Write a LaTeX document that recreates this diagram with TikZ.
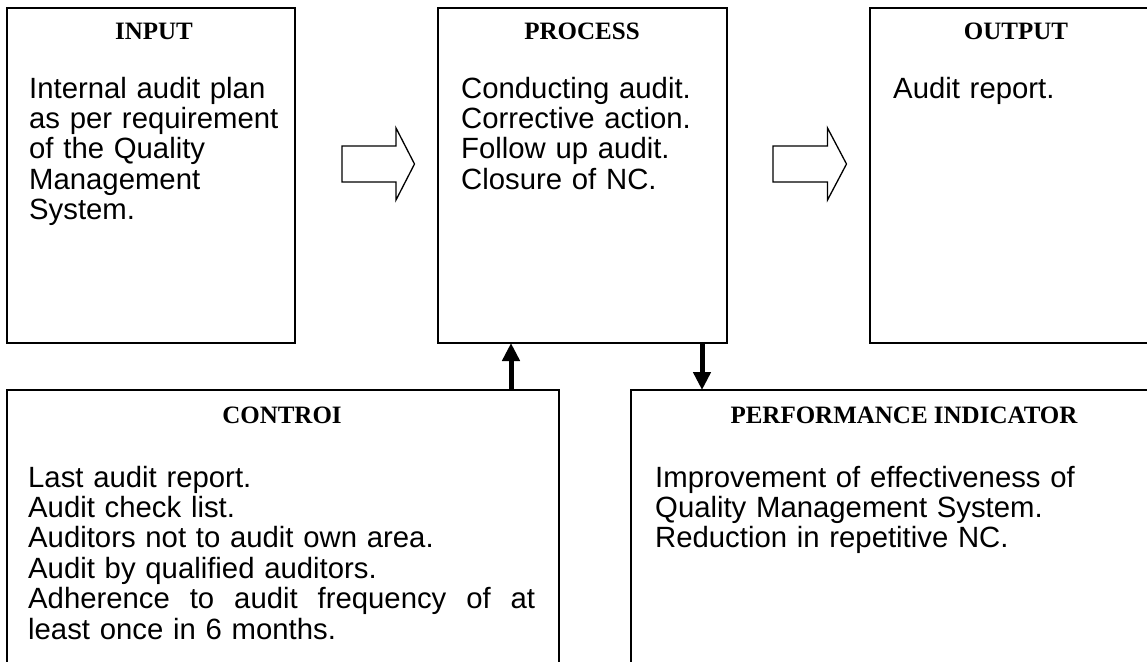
\documentclass[tikz,border=0pt]{standalone}
\usepackage{fontspec}
\setmainfont{Liberation Sans}
\newfontfamily\titlefont{Liberation Serif}
\usetikzlibrary{arrows.meta}
\tikzset{
  box/.style={draw, line width=2pt, rectangle, anchor=north west, inner sep=0pt},
  boxtitle/.style={anchor=base, inner sep=0pt, font=\titlefont\bfseries\fontsize{25}{27}\selectfont},
  boxbody/.style={anchor=base west, inner sep=0pt, align=left, font=\fontsize{29.3}{30.4}\selectfont},
  blockarrow/.style={draw, line width=1.3pt, line join=miter, fill=white},
  thickarrow/.style={line width=5pt, -{Triangle[length=18pt, width=17pt]}, shorten >=-1pt}
}
\begin{document}
\begin{tikzpicture}[x=1pt, y=-1pt]
\useasboundingbox (0,0) rectangle (1147,661);
\clip (0,0) rectangle (1147,661);
% boxes
\node[box, minimum width=288pt, minimum height=335pt] (inp) at (6,7) {};
\node[box, minimum width=289pt, minimum height=335pt] (proc) at (437,7) {};
\node[box, minimum width=290pt, minimum height=335pt] (out) at (869,7) {};
\node[box, minimum width=552pt, minimum height=320pt] (ctrl) at (6,389) {};
\node[box, minimum width=546pt, minimum height=320pt] (perf) at (630,389) {};
% titles
\node[boxtitle] (inpT) at (154,40) {INPUT};
\node[boxtitle] (procT) at (582,40) {PROCESS};
\node[boxtitle] (outT) at (1016,40) {OUTPUT};
\node[boxtitle] (ctrlT) at (282,423) {CONTROI};
\node[boxtitle] (perfT) at (904,423) {PERFORMANCE INDICATOR};
% bodies
\node[boxbody, text width=262pt] (inpB) at (29,98) {Internal audit plan\\as per requirement\\of the Quality\\Management\\System.};
\node[boxbody, text width=262pt] (procB) at (461,98) {Conducting audit.\\Corrective action.\\Follow up audit.\\Closure of NC.};
\node[boxbody, text width=262pt] (outB) at (893,98) {Audit report.};
\node[boxbody, text width=507pt] (ctrlB) at (28,487) {Last audit report.\\Audit check list.\\Auditors not to audit own area.\\Audit by qualified auditors.\\\leavevmode\hbox to 507pt{Adherence\hfill to\hfill audit\hfill frequency\hfill of\hfill at}\\least once in 6 months.};
\node[boxbody, text width=480pt] (perfB) at (655,487) {Improvement of effectiveness of\\Quality Management System.\\Reduction in repetitive NC.};
% block arrows
\coordinate (a1) at (342,164);
\coordinate (a2) at (773,164);
\draw[blockarrow, shift={(a1)}] (0,-18) -- (54,-18) -- (54,-36) -- (72.5,0) -- (54,36) -- (54,18) -- (0,18) -- cycle;
\draw[blockarrow, shift={(a2)}] (0,-18) -- (54.5,-18) -- (54.5,-36) -- (73.5,0) -- (54.5,36) -- (54.5,18) -- (0,18) -- cycle;
% vertical arrows
\coordinate (upx) at (511,0);
\coordinate (dnx) at (702,0);
\draw[thickarrow] (ctrl.north -| upx) -- (proc.south -| upx);
\draw[thickarrow] (proc.south -| dnx) -- (perf.north -| dnx);
\end{tikzpicture}
\end{document}
